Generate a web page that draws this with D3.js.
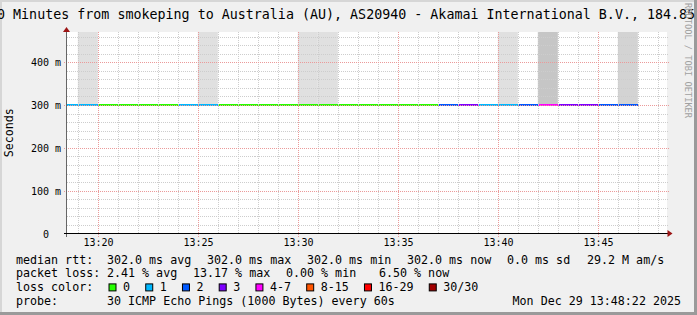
<!DOCTYPE html>
<html>
<head>
<meta charset="utf-8">
<script src="https://cdn.jsdelivr.net/npm/d3@7"></script>
<style>
  html, body { margin: 0; padding: 0; background: #f0f0f0; }
  svg { display: block; font-family: "DejaVu Sans Mono", monospace; }
</style>
</head>
<body>
<svg id="chart" width="697" height="315"></svg>
<script>
'use strict'

// one sample per minute: median rtt (ms) and pings lost out of 30
const sampleDay = '2025-12-29'
const sampleTimes = ['13:18', '13:19', '13:20', '13:21', '13:22', '13:23', '13:24', '13:25',
  '13:26', '13:27', '13:28', '13:29', '13:30', '13:31', '13:32', '13:33', '13:34', '13:35',
  '13:36', '13:37', '13:38', '13:39', '13:40', '13:41', '13:42', '13:43', '13:44', '13:45', '13:46']
const medianRtt = [302, 302, 302, 302, 302, 302, 302, 302, 302, 302, 302, 302, 302, 302, 302,
  302, 302, 302, 302, 302, 302, 302, 302, 302, 302, 302, 302, 302, 302]
const lostPings = [1, 1, 0, 0, 0, 0, 1, 1, 0, 0, 0, 0, 0, 0, 0, 0, 0, 0, 0, 2, 3, 1, 1, 2, 4, 3, 3, 2, 2]
// pings slower than the top of the graph, shown as smoke
const smokePings = [0, 1, 0, 0, 0, 0, 0, 1, 0, 0, 0, 0, 1, 1, 0, 0, 0, 0, 0, 0, 0, 0, 1, 0, 3, 0, 0, 0, 2]
const smokeTop = 480

const windowStart = '13:18:26'
const windowEnd = '13:48:26'
const yMax = 470.6
const yTicks = [0, 100, 200, 300, 400]

const lossSteps = [1, 2, 3, 4, 8, 16, 30]
const lossColors = ['#26ff00', '#00b8ff', '#0059ff', '#7e00ff', '#ff00ff', '#ff5500', '#ff0000', '#a10000']
const lossLabels = ['0', '1', '2', '3', '4-7', '8-15', '16-29', '30/30']

const rttStats = [302.0, 302.0, 302.0, 302.0]
const rttStatNames = ['avg', 'max', 'min', 'now']
const rttSd = 0.0
const amS = '29.2 M'
const lossStats = [2.41, 13.17, 0.00, 6.50]
const lossStatNames = ['avg', 'max', 'min', 'now']

const title = '30 Minutes from smokeping to Australia (AU), AS20940 - Akamai International B.V., 184.85.'
const probeText = '30 ICMP Echo Pings (1000 Bytes) every 60s'
const stamp = 'Mon Dec 29 13:48:22 2025'

const W = 697
const H = 315
const plot = { left: 66.5, right: 666.5, top: 32, bottom: 233.5 }

const parseTime = d3.timeParse('%Y-%m-%d %H:%M:%S')
const at = t => parseTime(sampleDay + ' ' + (t.length === 5 ? t + ':00' : t))

const samples = sampleTimes.map((t, i) => ({
  t0: at(t),
  t1: d3.timeMinute.offset(at(t), 1),
  rtt: medianRtt[i],
  loss: lostPings[i],
  smoke: smokePings[i]
}))

const x = d3.scaleTime()
  .domain([at(windowStart), at(windowEnd)])
  .range([plot.left, plot.right])
const y = d3.scaleLinear()
  .domain([0, yMax])
  .range([plot.bottom, plot.top])
const lossColor = d3.scaleThreshold().domain(lossSteps).range(lossColors)
const smokeColor = d3.scaleLinear().domain([1, 3]).range(['#e0e0e0', '#c6c6c6'])

const svg = d3.select('#chart')
const crisp = v => Math.round(v) + 0.5

// frame
svg.append('rect').attr('width', W).attr('height', H).attr('fill', '#f0f0f0')
svg.append('rect').attr('x', 0).attr('y', 0).attr('width', W).attr('height', 2).attr('fill', '#d6d6d6')
svg.append('rect').attr('x', 0).attr('y', 0).attr('width', 2).attr('height', H).attr('fill', '#d6d6d6')
svg.append('rect').attr('x', 0).attr('y', H - 3).attr('width', W).attr('height', 3).attr('fill', '#9a9a9a')
svg.append('rect').attr('x', W - 3).attr('y', 0).attr('width', 3).attr('height', H).attr('fill', '#9a9a9a')

svg.append('defs').append('clipPath').attr('id', 'plotclip')
  .append('rect')
  .attr('x', plot.left + 0.5).attr('y', plot.top)
  .attr('width', plot.right - plot.left).attr('height', plot.bottom - plot.top)

svg.append('rect')
  .attr('x', plot.left + 0.5).attr('y', plot.top)
  .attr('width', plot.right - plot.left).attr('height', plot.bottom - plot.top)
  .attr('fill', '#fff')

const inner = svg.append('g').attr('clip-path', 'url(#plotclip)')

// smoke
inner.append('g')
  .selectAll('rect')
  .data(samples.filter(d => d.smoke > 0))
  .join('rect')
  .attr('x', d => x(d.t0))
  .attr('width', d => x(d.t1) - x(d.t0))
  .attr('y', d => y(smokeTop))
  .attr('height', d => y(d.rtt) - y(smokeTop))
  .attr('fill', d => smokeColor(d.smoke))

// grid
const grid = svg.append('g').attr('shape-rendering', 'crispEdges').attr('stroke-width', 1).attr('stroke-dasharray', '1,1')
const minorX = x.ticks(d3.timeMinute.every(1)).filter(d => d.getMinutes() % 5 !== 0)
const majorX = x.ticks(d3.timeMinute.every(5))
const minorY = d3.range(20, yMax, 20).filter(v => v % 100 !== 0)
const majorY = yTicks.filter(v => v > 0)

grid.selectAll('.vmin').data(minorX).join('line').attr('class', 'vmin')
  .attr('x1', d => crisp(x(d))).attr('x2', d => crisp(x(d)))
  .attr('y1', plot.top).attr('y2', plot.bottom)
  .attr('stroke', '#cdcdcd')
grid.selectAll('.hmin').data(minorY).join('line').attr('class', 'hmin')
  .attr('x1', plot.left).attr('x2', plot.right + 2)
  .attr('y1', d => crisp(y(d))).attr('y2', d => crisp(y(d)))
  .attr('stroke', '#cdcdcd')
grid.selectAll('.vmaj').data(majorX).join('line').attr('class', 'vmaj')
  .attr('x1', d => crisp(x(d))).attr('x2', d => crisp(x(d)))
  .attr('y1', plot.top).attr('y2', plot.bottom + 3)
  .attr('stroke', '#eb9a9a')
grid.selectAll('.hmaj').data(majorY).join('line').attr('class', 'hmaj')
  .attr('x1', plot.left - 3).attr('x2', plot.right + 2)
  .attr('y1', d => crisp(y(d))).attr('y2', d => crisp(y(d)))
  .attr('stroke', '#eb9a9a')

// median rtt, coloured by loss
inner.append('g')
  .attr('shape-rendering', 'crispEdges')
  .selectAll('rect')
  .data(samples)
  .join('rect')
  .attr('x', d => x(d.t0))
  .attr('width', d => x(d.t1) - x(d.t0))
  .attr('y', d => Math.round(y(d.rtt)))
  .attr('height', 2)
  .attr('fill', d => lossColor(d.loss))

// axes
const axes = svg.append('g').attr('shape-rendering', 'crispEdges')
axes.append('line')
  .attr('x1', plot.left).attr('x2', plot.left)
  .attr('y1', plot.top - 3).attr('y2', plot.bottom + 3)
  .attr('stroke', '#666')
axes.append('line')
  .attr('x1', plot.left - 3).attr('x2', plot.right + 4)
  .attr('y1', plot.bottom).attr('y2', plot.bottom)
  .attr('stroke', '#000')

const arrow = '#9c1515'
svg.append('path')
  .attr('d', `M${plot.left - 3.5},${plot.top} L${plot.left + 3.5},${plot.top} L${plot.left},${plot.top - 5} Z`)
  .attr('fill', arrow)
svg.append('path')
  .attr('d', `M${plot.right + 1},${plot.bottom - 3.5} L${plot.right + 1},${plot.bottom + 3.5} L${plot.right + 6},${plot.bottom} Z`)
  .attr('fill', arrow)

// tick labels
const fmtTime = d3.timeFormat('%H:%M')
svg.append('g')
  .selectAll('text')
  .data(majorX)
  .join('text')
  .attr('x', d => crisp(x(d)))
  .attr('y', 246)
  .attr('text-anchor', 'middle')
  .attr('font-size', 10)
  .text(fmtTime)

svg.append('g')
  .selectAll('text')
  .data(yTicks)
  .join('text')
  .attr('x', 61)
  .attr('y', d => crisp(y(d)) + 3.5)
  .attr('text-anchor', 'end')
  .attr('font-size', 10)
  .text(d => d === 0 ? '0\u00a0\u00a0' : d + ' m')

svg.append('text')
  .attr('transform', `translate(13,${(plot.top + plot.bottom) / 2}) rotate(-90)`)
  .attr('text-anchor', 'middle')
  .attr('font-size', 11.66)
  .text('Seconds')

// title and credit
svg.append('text')
  .attr('x', -11).attr('y', 18.5)
  .attr('font-size', 13.33)
  .text(title)

svg.append('text')
  .attr('transform', 'translate(685,3) rotate(90)')
  .attr('font-size', 8.7)
  .attr('fill', '#a0a0a0')
  .text('RRDTOOL / TOBI OETIKER')

// legend
const legend = svg.append('g').attr('font-size', 11.66)
const rows = [263.5, 277.2, 290.9, 304.6]
const col = 107
const addText = (xp, yp, s, anchor) => legend.append('text')
  .attr('x', xp).attr('y', yp)
  .attr('text-anchor', anchor || 'start')
  .style('white-space', 'pre')
  .text(s)

const rttX = [col, 207, 307, 407]
addText(16, rows[0], 'median rtt:')
rttStats.forEach((v, i) => addText(rttX[i], rows[0], v.toFixed(1) + ' ms ' + rttStatNames[i]))
addText(507, rows[0], rttSd.toFixed(1) + ' ms sd')
addText(587, rows[0], amS + ' am/s')

const lossX = [col, 193, 286, 379]
addText(16, rows[1], 'packet loss:')
lossStats.forEach((v, i) => addText(lossX[i], rows[1], v.toFixed(2) + ' % ' + lossStatNames[i]))

addText(16, rows[2], 'loss color:')
let bx = 109
lossLabels.forEach((label, i) => {
  legend.append('rect')
    .attr('x', bx).attr('y', rows[2] - 7)
    .attr('width', 7).attr('height', 7)
    .attr('fill', lossColors[i])
    .attr('stroke', '#000')
    .attr('stroke-width', 1)
  const t = addText(bx + 14, rows[2], label)
  bx += 14 + t.node().getComputedTextLength() + 15.7
})

addText(16, rows[3], 'probe:')
addText(col, rows[3], probeText)
addText(681, rows[3], stamp, 'end')
</script>
</body>
</html>
